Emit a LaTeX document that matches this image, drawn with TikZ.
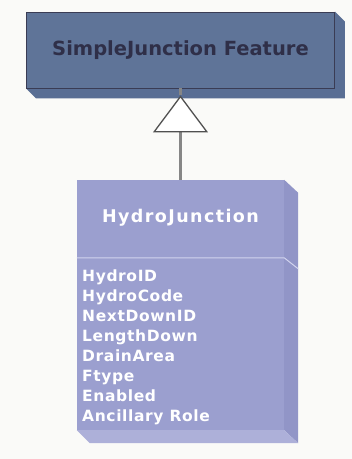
\documentclass[tikz,border=0pt]{standalone}
\usepackage{fontspec}
\setmainfont{DejaVu Sans}
\usetikzlibrary{arrows.meta,calc,backgrounds}
\definecolor{pagebg}{HTML}{FAFAF8}
\definecolor{featfront}{HTML}{5F7498}
\definecolor{featside}{HTML}{596E94}
\definecolor{featline}{HTML}{3A3C54}
\definecolor{feattext}{HTML}{2F2F48}
\definecolor{jfront}{HTML}{9B9FCF}
\definecolor{jside}{HTML}{9195C7}
\definecolor{jbottom}{HTML}{ADB0D9}
\definecolor{jline}{HTML}{D2D4EE}
\definecolor{stemgrey}{HTML}{868686}
\definecolor{tipgrey}{HTML}{505050}
\tikzset{
  featbox/.style={draw=featline, line width=0.9pt, fill=featfront, inner sep=0pt,
    minimum width=308pt, minimum height=76pt, text=feattext,
    font=\fontsize{19.5}{22}\selectfont\bfseries},
  classbox/.style={fill=jfront, inner sep=0pt, minimum width=207pt, minimum height=250pt},
  classtitle/.style={inner sep=0pt, text=white,
    font=\fontsize{17.5}{20}\selectfont\bfseries\addfontfeatures{LetterSpace=8}},
  attrlist/.style={inner sep=0pt, text=white, align=left, anchor=north west,
    font=\fontsize{15.5}{20}\selectfont\bfseries\addfontfeatures{LetterSpace=4}},
  stem/.style={draw=stemgrey, line width=2.4pt},
  inherit/.style={-{Triangle[length=37pt, width=55pt, fill=white, color=tipgrey, line width=1.3pt]}}
}
\begin{document}
\begin{tikzpicture}[x=1pt, y=-1pt]
  \useasboundingbox (0,0) rectangle (352,459);

  % parent feature class
  \node[featbox] (sj) at (180.5,50) {SimpleJunction Feature};

  % child class: front face, title and attributes
  \node[classbox] (hj) at (180.5,305) {};
  \node[classtitle] (hjname) at (180.5,218) {HydroJunction};
  \node[attrlist] (hjattr) at (82,270) {HydroID\\HydroCode\\NextDownID\\LengthDown\\DrainArea\\Ftype\\Enabled\\Ancillary Role};

  \begin{scope}[on background layer]
    \fill[pagebg] (0,0) rectangle (352,459);
    % depth of the feature box
    \fill[featside] (sj.north east) -- ($(sj.north east)+(10,10)$) -- ($(sj.south east)+(10,10)$)
      -- ($(sj.south west)+(10,10)$) -- (sj.south west) -- (sj.south east) -- cycle;
    % depth of the class box
    \fill[jside] (hj.north east) -- ($(hj.north east)+(14,13)$) -- ($(hj.south east)+(14,13)$)
      -- (hj.south east) -- cycle;
    \fill[jbottom] (hj.south west) -- (hj.south east) -- ($(hj.south east)+(14,13)$)
      -- ($(hj.south west)+(13,13)$) -- cycle;
  \end{scope}

  % compartment divider
  \draw[jline, line width=1pt] ($(hj.north west)+(0,78)$) -- ($(hj.north east)+(0,78)$)
    -- ($(hj.north east)+(14,89)$);

  % generalization
  \draw[stem] (sj.south) -- ++(0,7);
  \draw[stem, inherit, shorten >=7pt] (hj.north) -- (sj.south);
\end{tikzpicture}
\end{document}
